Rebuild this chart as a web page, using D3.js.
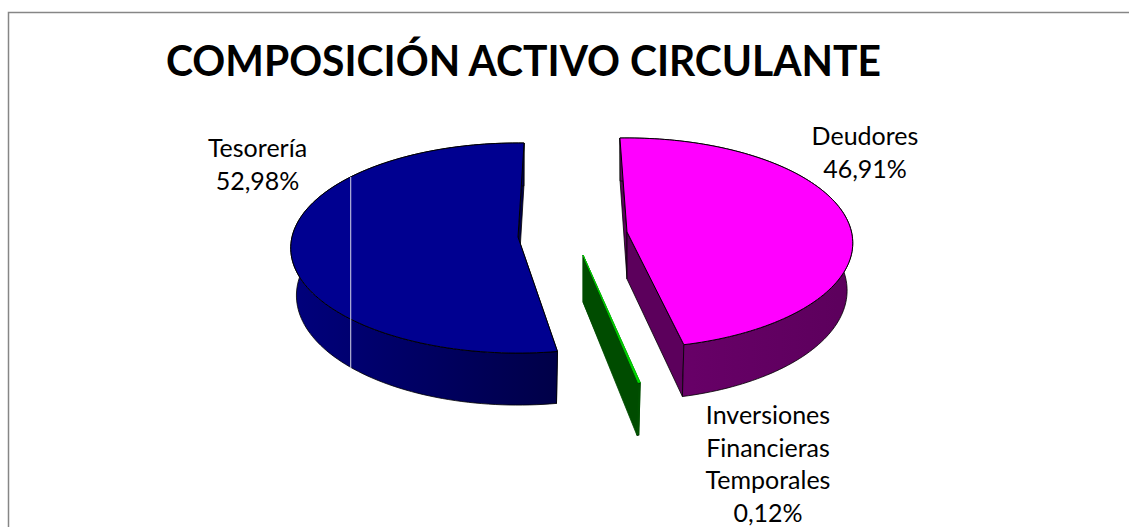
<!DOCTYPE html>
<html>
<head>
<meta charset="utf-8">
<script src="https://cdnjs.cloudflare.com/ajax/libs/d3/7.8.5/d3.min.js"></script>
<style>
  html, body { margin: 0; padding: 0; background: #fff; }
  svg { display: block; }
  text { font-family: Lato, "Open Sans", sans-serif; fill: #000; }
</style>
</head>
<body>
<div id="chart"></div>
<script>
const categories = ["Deudores", "Inversiones Financieras Temporales", "Tesorería"];
const values = [46.91, 0.12, 52.98];
const valueLabels = ["46,91%", "0,12%", "52,98%"];
const titleText = "COMPOSICIÓN ACTIVO CIRCULANTE";

const width = 1129, height = 527;
const deg = Math.PI / 180;

// exploded slices, each one has its own apex on the screen
const layout = {
  "Deudores": { cx: 627, cy: 232, rx: 224.5, ry: 103.9, spin: 0, top: "#ff00ff", wallA: "#6c006c", wallB: "#5c005c", line: "#000", wallLine: "#000" },
  "Inversiones Financieras Temporales": { cx: 583, cy: 255, rx: 226, ry: 117.7, spin: 0, top: "#00e000", wallA: "#005a00", wallB: "#004c00", line: "#00c800", wallLine: "#004c00" },
  "Tesorería": { cx: 518, cy: 237, rx: 226, ry: 103.9, spin: 3.7 * deg, top: "#000090", wallA: "#00007c", wallB: "#000048", line: "#000", wallLine: "#000" }
};
const persp = 0.105;
const depth = 47, lowerX = 0.975, lowerY = 1.043;

const svg = d3.select("#chart").append("svg")
  .attr("width", width).attr("height", height);

// chart frame, only left and top are inside the crop
svg.append("path")
  .attr("d", d3.line()([[8.5, height], [8.5, 12.5], [width, 12.5]]))
  .attr("fill", "none").attr("stroke", "#868686").attr("stroke-width", 1.5);

svg.append("text")
  .attr("x", 166).attr("y", 76)
  .attr("font-size", 42).attr("font-weight", 700)
  .attr("textLength", 715).attr("lengthAdjust", "spacingAndGlyphs")
  .text(titleText);

const pie = d3.pie().sort(null).startAngle(-2 * deg).endAngle(358 * deg);
const slices = pie(values).map((d, i) => ({ ...d, name: categories[i], conf: layout[categories[i]] }));

// angle + radius -> screen, with a bit of perspective on the disc
function project(c, angle, r, lower) {
  const X = r * Math.sin(angle), Y = -r * Math.cos(angle);
  const w = 1 - persp * Y;
  const px = c.rx * X / w, py = c.ry * Y / w;
  return lower
    ? [c.cx + px * lowerX, c.cy + depth + py * lowerY]
    : [c.cx + px, c.cy + py];
}

function arcPoints(c, a0, a1, lower) {
  return d3.range(0, 121).map(i => project(c, a0 + (a1 - a0) * i / 120, 1, lower));
}

const line = d3.line();
const defs = svg.append("defs");

const order = ["Tesorería", "Deudores", "Inversiones Financieras Temporales"];
order.forEach(name => {
  const s = slices.find(d => d.name === name);
  const c = s.conf;
  const a0 = s.startAngle + c.spin, a1 = s.endAngle + c.spin;
  const id = "wall" + slices.indexOf(s);

  const grad = defs.append("linearGradient").attr("id", id);
  grad.append("stop").attr("offset", "0%").attr("stop-color", c.wallA);
  grad.append("stop").attr("offset", "100%").attr("stop-color", c.wallB);

  const apex = project(c, 0, 0, false), apexLow = project(c, 0, 0, true);
  const topArc = arcPoints(c, a0, a1, false), lowArc = arcPoints(c, a0, a1, true);
  const g = svg.append("g").attr("class", "slice");

  const wallStyle = p => p.attr("fill", c.wallB).attr("stroke", c.wallLine).attr("stroke-width", 0.8).attr("stroke-linejoin", "round");

  // cut faces first, then the rim, top face last
  g.append("path").call(wallStyle)
    .attr("d", line([apex, topArc[0], lowArc[0], apexLow]) + "Z");
  g.append("path").call(wallStyle)
    .attr("d", line([apex, topArc[120], lowArc[120], apexLow]) + "Z");
  g.append("path").call(wallStyle)
    .attr("fill", `url(#${id})`)
    .attr("d", line(topArc.concat(lowArc.slice().reverse())) + "Z");
  g.append("path")
    .attr("fill", c.top).attr("stroke", c.line).attr("stroke-width", 1)
    .attr("stroke-linejoin", "round")
    .attr("d", line([apex].concat(topArc)) + "Z");
});

// thin light seam that crosses the Tesorería slice
const tes = layout["Tesorería"];
const seamTop = project(tes, -52 * deg, 1, false), seamLow = project(tes, 224 * deg, 1, true);
svg.append("line")
  .attr("x1", seamTop[0]).attr("y1", seamTop[1])
  .attr("x2", seamTop[0]).attr("y2", seamLow[1])
  .attr("stroke", "#d8d8e8").attr("stroke-width", 1);

// data labels
const labelSpots = {
  "Deudores": { x: 865, y: 145, lines: ["Deudores"] },
  "Inversiones Financieras Temporales": { x: 768, y: 424, lines: ["Inversiones", "Financieras", "Temporales"] },
  "Tesorería": { x: 257.5, y: 157, lines: ["Tesorería"] }
};
slices.forEach((s, i) => {
  const spot = labelSpots[s.name];
  const t = svg.append("text")
    .attr("text-anchor", "middle").attr("font-size", 25);
  spot.lines.concat(valueLabels[i]).forEach((txt, k) => {
    t.append("tspan").attr("x", spot.x).attr("y", spot.y + k * 32.7).text(txt);
  });
});
</script>
</body>
</html>
